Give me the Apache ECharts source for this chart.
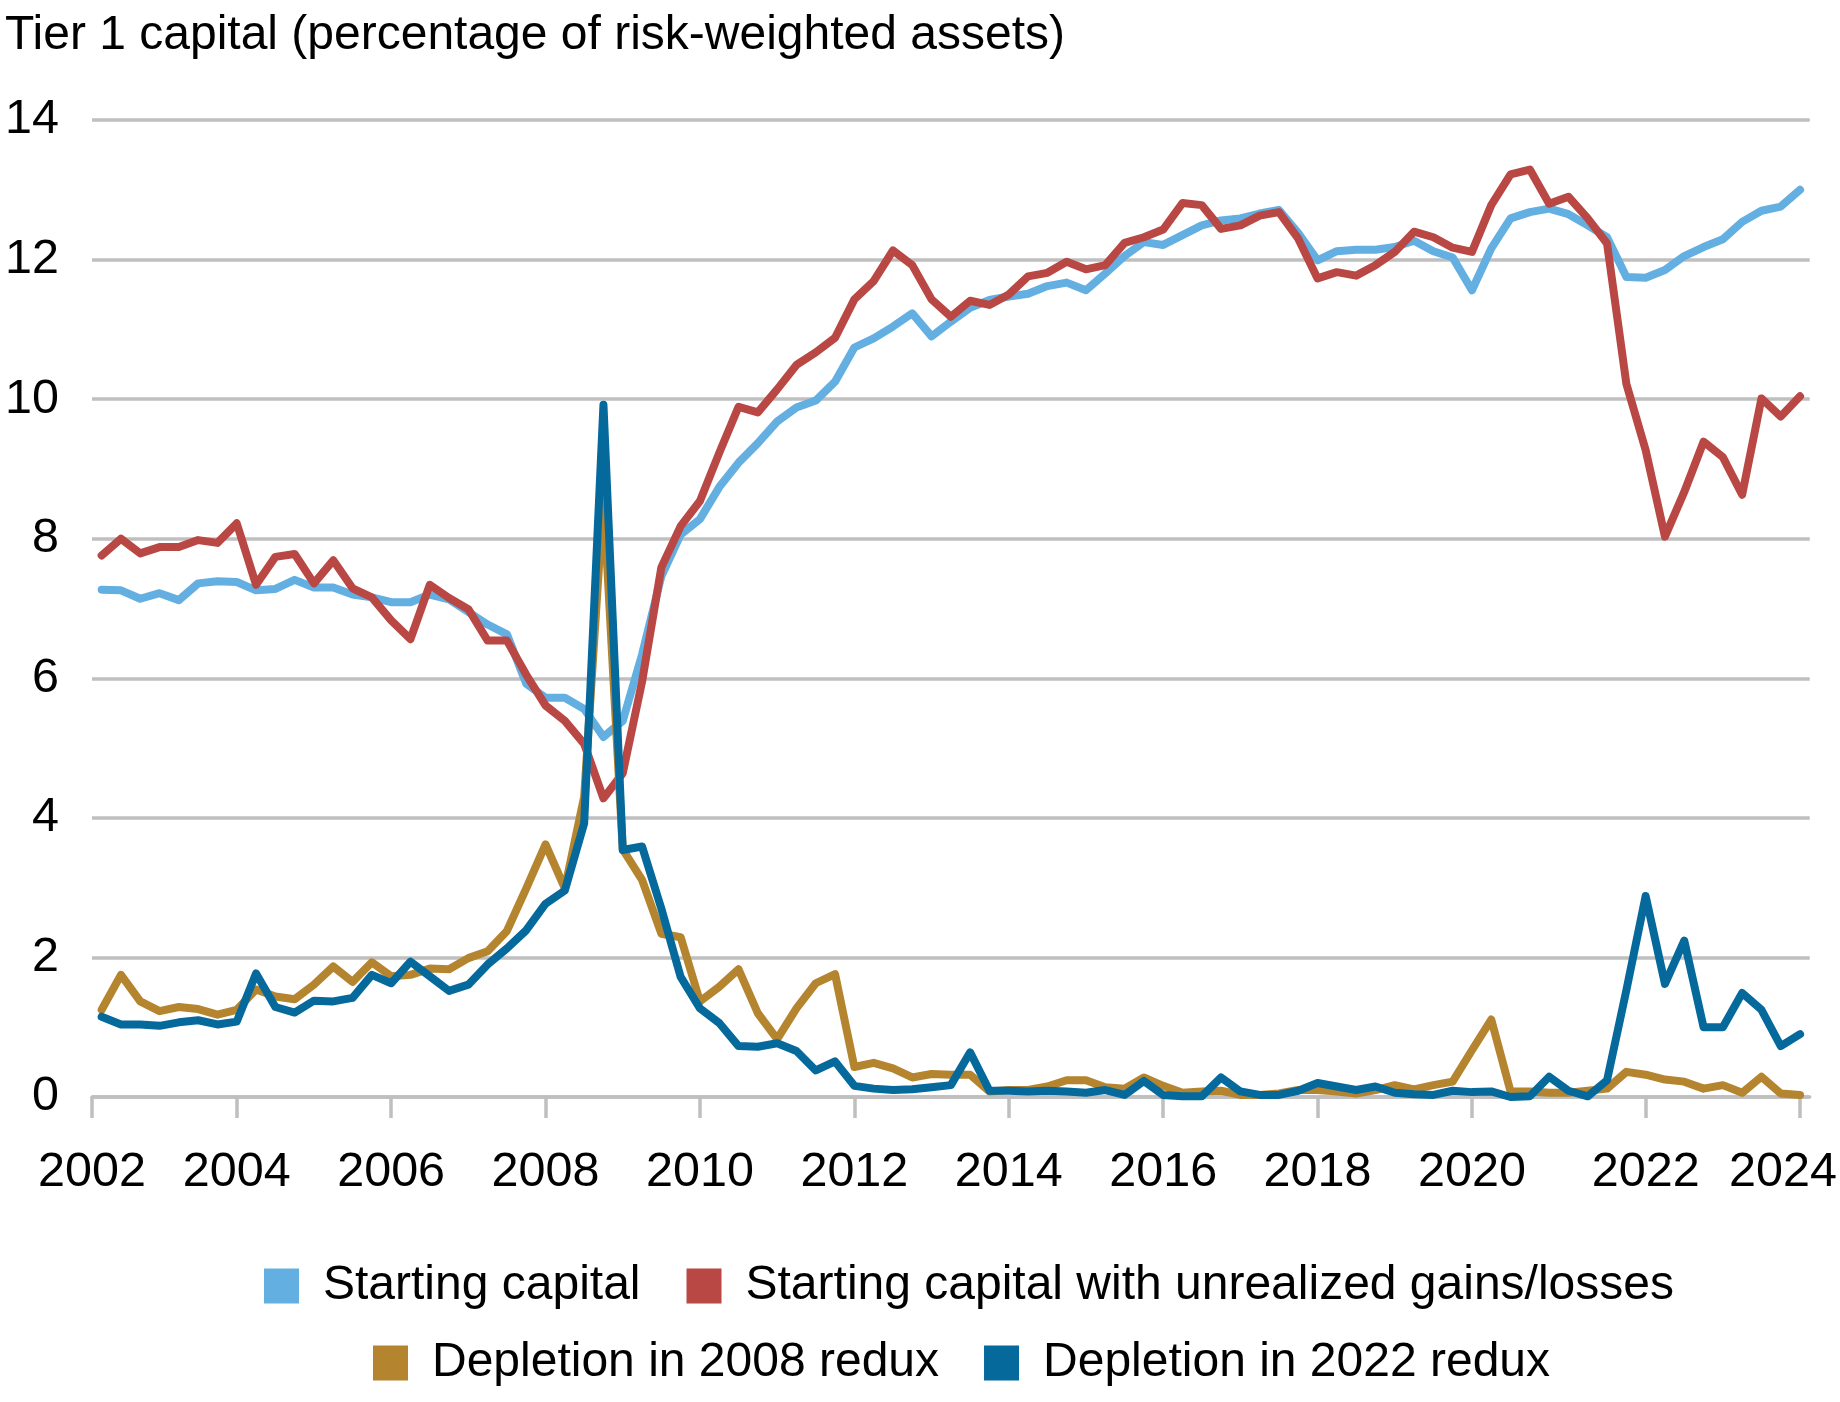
<!DOCTYPE html>
<html>
<head>
<meta charset="utf-8">
<title>Tier 1 capital</title>
<script src="https://cdn.jsdelivr.net/npm/echarts@6/dist/echarts.min.js"></script>
<style>
  html, body { margin: 0; padding: 0; background: #fff; }
  #chart { width: 1840px; height: 1402px; }
</style>
</head>
<body>
<div id="chart"></div>
<script>
// quarterly observations, 2002Q1 .. 2024Q1
var quarters = [
    '2002Q1', '2002Q2', '2002Q3', '2002Q4', '2003Q1', '2003Q2', '2003Q3', '2003Q4',
    '2004Q1', '2004Q2', '2004Q3', '2004Q4', '2005Q1', '2005Q2', '2005Q3', '2005Q4',
    '2006Q1', '2006Q2', '2006Q3', '2006Q4', '2007Q1', '2007Q2', '2007Q3', '2007Q4',
    '2008Q1', '2008Q2', '2008Q3', '2008Q4', '2009Q1', '2009Q2', '2009Q3', '2009Q4',
    '2010Q1', '2010Q2', '2010Q3', '2010Q4', '2011Q1', '2011Q2', '2011Q3', '2011Q4',
    '2012Q1', '2012Q2', '2012Q3', '2012Q4', '2013Q1', '2013Q2', '2013Q3', '2013Q4',
    '2014Q1', '2014Q2', '2014Q3', '2014Q4', '2015Q1', '2015Q2', '2015Q3', '2015Q4',
    '2016Q1', '2016Q2', '2016Q3', '2016Q4', '2017Q1', '2017Q2', '2017Q3', '2017Q4',
    '2018Q1', '2018Q2', '2018Q3', '2018Q4', '2019Q1', '2019Q2', '2019Q3', '2019Q4',
    '2020Q1', '2020Q2', '2020Q3', '2020Q4', '2021Q1', '2021Q2', '2021Q3', '2021Q4',
    '2022Q1', '2022Q2', '2022Q3', '2022Q4', '2023Q1', '2023Q2', '2023Q3', '2023Q4',
    '2024Q1'
];

// Starting capital
var startingCapital = [
    7.27, 7.26, 7.14, 7.22, 7.12, 7.36, 7.39, 7.38,
    7.26, 7.28, 7.41, 7.30, 7.30, 7.20, 7.16, 7.09,
    7.09, 7.20, 7.13, 6.95, 6.77, 6.63, 5.92, 5.72,
    5.72, 5.56, 5.16, 5.39, 6.34, 7.46, 8.06, 8.28,
    8.74, 9.09, 9.37, 9.68, 9.88, 9.98, 10.25, 10.74,
    10.87, 11.04, 11.23, 10.90, 11.11, 11.31, 11.42, 11.47,
    11.51, 11.62, 11.67, 11.56, 11.80, 12.05, 12.25, 12.21,
    12.35, 12.49, 12.56, 12.59, 12.66, 12.71, 12.38, 11.99,
    12.12, 12.14, 12.14, 12.18, 12.27, 12.12, 12.03, 11.56,
    12.16, 12.59, 12.68, 12.73, 12.65, 12.49, 12.32, 11.75,
    11.74, 11.85, 12.05, 12.18, 12.29, 12.54, 12.70, 12.76,
    13.00
];

// Starting capital with unrealized gains/losses
var withUnrealized = [
    7.76, 8.00, 7.79, 7.88, 7.88, 7.98, 7.94, 8.22,
    7.34, 7.74, 7.78, 7.36, 7.69, 7.29, 7.16, 6.83,
    6.56, 7.34, 7.15, 6.99, 6.54, 6.54, 6.05, 5.61,
    5.39, 5.06, 4.28, 4.64, 5.95, 7.59, 8.18, 8.54,
    9.23, 9.89, 9.81, 10.14, 10.49, 10.67, 10.88, 11.43,
    11.69, 12.13, 11.92, 11.43, 11.18, 11.41, 11.35, 11.50,
    11.76, 11.81, 11.97, 11.86, 11.92, 12.24, 12.32, 12.43,
    12.81, 12.78, 12.44, 12.49, 12.63, 12.68, 12.30, 11.73,
    11.82, 11.77, 11.92, 12.11, 12.40, 12.32, 12.17, 12.11,
    12.78, 13.22, 13.29, 12.80, 12.90, 12.59, 12.23, 10.22,
    9.27, 8.03, 8.67, 9.39, 9.17, 8.63, 10.01, 9.75,
    10.04
];

// Depletion in 2008 redux
var depletion2008 = [
    1.25, 1.75, 1.37, 1.23, 1.29, 1.26, 1.18, 1.25,
    1.54, 1.44, 1.40, 1.61, 1.87, 1.65, 1.93, 1.73,
    1.75, 1.84, 1.83, 1.99, 2.09, 2.38, 2.99, 3.62,
    2.99, 4.30, 8.60, 3.55, 3.11, 2.34, 2.29, 1.37,
    1.58, 1.83, 1.20, 0.83, 1.27, 1.63, 1.76, 0.43,
    0.49, 0.41, 0.28, 0.33, 0.32, 0.32, 0.08, 0.10,
    0.10, 0.15, 0.24, 0.24, 0.14, 0.12, 0.28, 0.16,
    0.06, 0.08, 0.09, 0.03, 0.03, 0.05, 0.10, 0.10,
    0.08, 0.05, 0.10, 0.17, 0.11, 0.17, 0.22, 0.67,
    1.11, 0.08, 0.08, 0.06, 0.06, 0.09, 0.12, 0.36,
    0.32, 0.25, 0.22, 0.12, 0.17, 0.06, 0.29, 0.05,
    0.03
];

// Depletion in 2022 redux
var depletion2022 = [
    1.15, 1.04, 1.04, 1.02, 1.07, 1.10, 1.04, 1.08,
    1.77, 1.29, 1.21, 1.38, 1.37, 1.42, 1.75, 1.63,
    1.94, 1.73, 1.52, 1.61, 1.90, 2.13, 2.39, 2.77,
    2.96, 3.92, 9.92, 3.54, 3.59, 2.70, 1.72, 1.27,
    1.06, 0.73, 0.72, 0.77, 0.66, 0.38, 0.51, 0.16,
    0.12, 0.10, 0.11, 0.14, 0.17, 0.64, 0.09, 0.09,
    0.08, 0.09, 0.08, 0.06, 0.10, 0.03, 0.23, 0.03,
    0.01, 0.01, 0.28, 0.08, 0.03, 0.03, 0.09, 0.20,
    0.15, 0.10, 0.15, 0.06, 0.04, 0.03, 0.09, 0.07,
    0.08, 0.00, 0.01, 0.29, 0.09, 0.01, 0.24, 1.53,
    2.88, 1.62, 2.24, 1.00, 1.00, 1.49, 1.25, 0.73,
    0.90
];

// x axis labels and the quarter each one sits on (the first one sits at the axis start)
var tickLabels = ['2002', '2004', '2006', '2008', '2010', '2012', '2014', '2016', '2018', '2020', '2022', '2024'];
var tickQuarters = ['', '2003Q4', '2005Q4', '2007Q4', '2009Q4', '2011Q4', '2013Q4', '2015Q4', '2017Q4', '2019Q4', '2022Q1', '2024Q1'];

var yTicks = [0, 2, 4, 6, 8, 10, 12, 14];

var seriesNames = [
    'Starting capital',
    'Starting capital with unrealized gains/losses',
    'Depletion in 2008 redux',
    'Depletion in 2022 redux'
];
var seriesColors = ['#63AFE1', '#B94744', '#B4842F', '#05699C'];

var FONT = '"Liberation Sans", Arial, Helvetica, sans-serif';
var GRID_GREY = '#bfbfbf';

var chart = echarts.init(document.getElementById('chart'));

var xMin = -0.5;
var xMax = quarters.length - 0.5;

// tick positions come from the quarter index
var tickPos = tickQuarters.map(function (q) {
    var i = quarters.indexOf(q);
    return i < 0 ? xMin : i;
});
var labelAt = {};
tickPos.forEach(function (p, k) { labelAt[p] = tickLabels[k]; });
var lastTick = tickPos[tickPos.length - 1];

function toPairs(values) {
    return values.map(function (v, i) { return [i, v]; });
}

function makeSeries(name, values, color) {
    return {
        name: name,
        type: 'line',
        data: toPairs(values),
        showSymbol: false,
        symbol: 'none',
        smooth: false,
        itemStyle: { color: color },
        lineStyle: { color: color, width: 8, join: 'round', cap: 'round' },
        emphasis: { disabled: true }
    };
}

var legendBase = {
    orient: 'horizontal',
    icon: 'rect',
    padding: 0,
    itemWidth: 35,
    itemHeight: 35,
    selectedMode: false,
    itemStyle: { borderWidth: 0 },
    textStyle: { fontSize: 48, color: '#000', fontFamily: FONT, padding: [0, 0, 0, 19] }
};

var option = {
    animation: false,
    backgroundColor: '#ffffff',
    textStyle: { fontFamily: FONT, color: '#000' },
    title: {
        text: 'Tier 1 capital (percentage of risk-weighted assets)',
        left: 0,
        top: 7,
        textStyle: { fontSize: 48, fontWeight: 'normal', color: '#000', fontFamily: FONT }
    },
    grid: { left: 92, right: 26, top: 120, bottom: 305, containLabel: false },
    legend: [
        Object.assign({}, legendBase, { data: seriesNames.slice(0, 2), left: 264, top: 1262, itemGap: 46 }),
        Object.assign({}, legendBase, { data: seriesNames.slice(2, 4), left: 373, top: 1339, itemGap: 45 })
    ],
    xAxis: {
        type: 'value',
        min: xMin,
        max: xMax,
        axisLine: { show: true, lineStyle: { color: GRID_GREY, width: 3.5 } },
        axisTick: {
            show: true,
            length: 21,
            customValues: tickPos,
            lineStyle: { color: GRID_GREY, width: 3.5 }
        },
        axisLabel: {
            customValues: tickPos,
            margin: 51,
            fontSize: 48.5,
            color: '#000',
            fontFamily: FONT,
            formatter: function (v) {
                var s = labelAt[v];
                if (s === undefined) { return ''; }
                return v === lastTick ? '{last|' + s + '}' : s;
            },
            rich: {
                last: { padding: [0, 34, 0, 0], fontSize: 48.5, color: '#000', fontFamily: FONT }
            }
        },
        splitLine: { show: false }
    },
    yAxis: {
        type: 'value',
        min: yTicks[0],
        max: yTicks[yTicks.length - 1],
        interval: yTicks[1] - yTicks[0],
        axisLine: { show: false },
        axisTick: { show: false },
        axisLabel: { fontSize: 48.5, color: '#000', margin: 33, fontFamily: FONT },
        splitLine: { show: true, lineStyle: { color: GRID_GREY, width: 3.5 } }
    },
    series: [
        makeSeries(seriesNames[0], startingCapital, seriesColors[0]),
        makeSeries(seriesNames[1], withUnrealized, seriesColors[1]),
        makeSeries(seriesNames[2], depletion2008, seriesColors[2]),
        makeSeries(seriesNames[3], depletion2022, seriesColors[3])
    ]
};

chart.setOption(option);
</script>
</body>
</html>
